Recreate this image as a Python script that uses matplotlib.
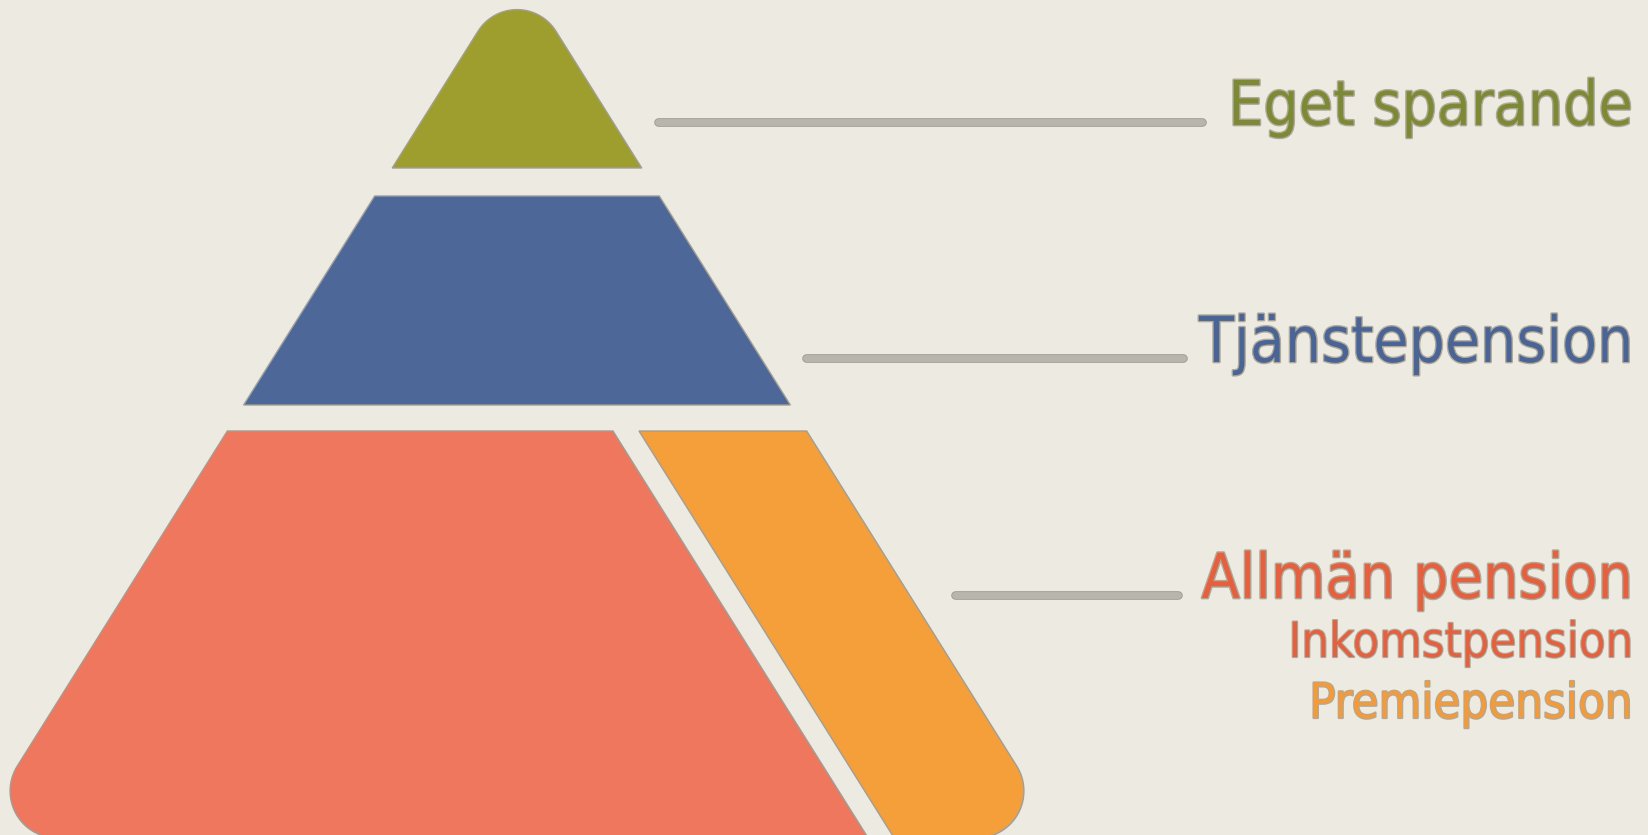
import numpy as np
import matplotlib
matplotlib.use('Agg')
import matplotlib.pyplot as plt
import matplotlib.patheffects as pe
from matplotlib.patches import Polygon

# Canvas in pixels (y grows downward)
W, H = 1648, 835

# Pyramid geometry: apex and edge slope (dx per dy)
apex_x, apex_y = 517, -31
slope = 0.627

# Layers: (top y, bottom y)
layer_names = ["Eget sparande", "Tjänstepension", "Allmän pension"]
layer_top = [apex_y, 196, 431]
layer_bottom = [168, 405, 838]
layer_colors = ["#9e9e2e", "#4d6898", "#ee775e"]
split_color = "#f59f3b"
split_top_x = 626      # centre of the gap between inkomst- and premiepension
split_gap = 26
round_r = 47           # rounded outer corners

# Connector lines and labels
conn_y = [122, 358, 595]
conn_x_end = [1202, 1183, 1178]
conn_offset = 45
label_colors = ["#7d8a35", "#4a6496", "#e5603f"]
label_base = [125, 362, 598]
label_width = [405, 435, 432]
label_cap = [50, 50, 49]
sub_labels = ["Inkomstpension", "Premiepension"]
sub_colors = ["#e5603f", "#f39a3a"]
sub_base = [657, 718]
sub_width = [345, 323]
sub_cap = [39, 37]
text_right = 1633

bg = "#edebe1"
edge = "#a19e96"


def left_x(y):
    return apex_x - slope * (y - apex_y)


def right_x(y):
    return apex_x + slope * (y - apex_y)


def fillet(pts, radii, n=40):
    """Polygon with circular fillets at vertices with radius > 0."""
    pts = [np.asarray(p, float) for p in pts]
    out = []
    N = len(pts)
    for i in range(N):
        p, r = pts[i], radii[i]
        if r <= 0:
            out.append(p)
            continue
        u = pts[i - 1] - p
        v = pts[(i + 1) % N] - p
        u /= np.linalg.norm(u)
        v /= np.linalg.norm(v)
        theta = np.arccos(np.clip(np.dot(u, v), -1, 1))
        d = r / np.tan(theta / 2)
        bis = (u + v) / np.linalg.norm(u + v)
        c = p + bis * r / np.sin(theta / 2)
        t1, t2 = p + u * d, p + v * d
        a1 = np.arctan2(*(t1 - c)[::-1])
        a2 = np.arctan2(*(t2 - c)[::-1])
        diff = (a2 - a1 + np.pi) % (2 * np.pi) - np.pi
        for a in a1 + diff * np.linspace(0, 1, n):
            out.append(c + r * np.array([np.cos(a), np.sin(a)]))
    return np.array(out)


fig = plt.figure(figsize=(W / 100, H / 100), dpi=100, facecolor=bg)
ax = fig.add_axes([0, 0, 1, 1])
ax.set_xlim(0, W)
ax.set_ylim(H, 0)
ax.set_facecolor(bg)
ax.axis('off')

# Top: rounded triangle
t, b = layer_top[0], layer_bottom[0]
tri = fillet([(apex_x, t), (right_x(b), b), (left_x(b), b)], [round_r - 1, 0, 0])
ax.add_patch(Polygon(tri, closed=True, fc=layer_colors[0], ec=edge, lw=1.0))

# Middle: trapezoid
t, b = layer_top[1], layer_bottom[1]
trap = [(left_x(t), t), (right_x(t), t), (right_x(b), b), (left_x(b), b)]
ax.add_patch(Polygon(trap, closed=True, fc=layer_colors[1], ec=edge, lw=1.0))

# Bottom: split into inkomstpension (left) and premiepension (right)
t, b = layer_top[2], layer_bottom[2]
dl = split_top_x - split_gap / 2
dr = split_top_x + split_gap / 2
shift = slope * (b - t)
red = fillet([(left_x(t), t), (dl, t), (dl + shift, b), (left_x(b), b)],
             [0, 0, 0, round_r])
ax.add_patch(Polygon(red, closed=True, fc=layer_colors[2], ec=edge, lw=1.0))
ora = fillet([(dr, t), (right_x(t), t), (right_x(b), b), (dr + shift, b)],
             [0, 0, round_r, 0])
ax.add_patch(Polygon(ora, closed=True, fc=split_color, ec=edge, lw=1.0))

# Connector bars
for y, xe in zip(conn_y, conn_x_end):
    ax.plot([right_x(y) + conn_offset, xe], [y, y], color="#b8b5ac", lw=5.0,
            solid_capstyle='round',
            path_effects=[pe.Stroke(linewidth=6.2, foreground="#9c9991"), pe.Normal()])

# Labels
font = dict(family=["DejaVu Sans"], stretch="condensed", weight="normal")
texts = []
for name, c, yb, w, cap in zip(layer_names, label_colors, label_base, label_width, label_cap):
    tx = ax.text(text_right, yb, name, color=c, ha='right', va='baseline',
                 fontsize=cap / 0.729 * 0.72, **font,
                 path_effects=[pe.withStroke(linewidth=2.0, foreground="#b0a99a")])
    texts.append((tx, w, cap))
for name, c, yb, w, cap in zip(sub_labels, sub_colors, sub_base, sub_width, sub_cap):
    tx = ax.text(text_right, yb, name, color=c, ha='right', va='baseline',
                 fontsize=cap / 0.729 * 0.72, **font,
                 path_effects=[pe.withStroke(linewidth=1.6, foreground="#b0a99a")])
    texts.append((tx, w, cap))

# Fit font sizes to the label widths (but never much taller than the reference)
fig.canvas.draw()
rend = fig.canvas.get_renderer()
for tx, w, cap in texts:
    bw = tx.get_window_extent(rend).width
    size = tx.get_fontsize()
    tx.set_fontsize(min(size * w / bw, size * 1.05))

fig.savefig("out.png", dpi=100, facecolor=bg)
